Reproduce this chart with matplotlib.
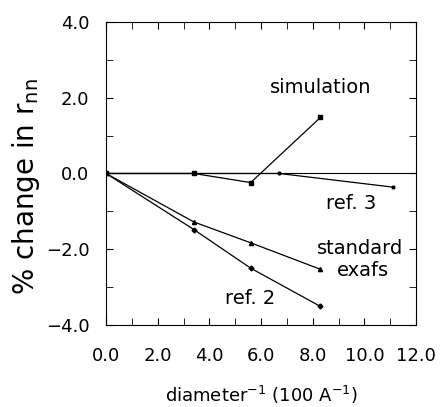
import numpy as np
import matplotlib
matplotlib.use('Agg')
import matplotlib.pyplot as plt
from matplotlib.ticker import MultipleLocator, FuncFormatter

# values (x = 1/diameter in 100/A, y = % change in r_nn)
sim_x = [0.0, 3.4, 5.6, 8.3]
sim_y = [0.0, 0.0, -0.24, 1.48]
ref3_x = [0.0, 6.7, 11.1]
ref3_y = [0.0, 0.0, -0.36]
exafs_x = [0.0, 3.4, 5.6, 8.3]
exafs_y = [0.0, -1.28, -1.83, -2.53]
ref2_x = [0.0, 3.4, 5.6, 8.3]
ref2_y = [0.0, -1.48, -2.50, -3.51]

plt.rcParams['font.family'] = 'DejaVu Sans'

fig = plt.figure(figsize=(4.4, 4.07), dpi=100)
ax = fig.add_axes([0.241, 0.2015, 0.7045, 0.7445])

ax.axhline(0, color='k', lw=0.8)
ax.plot(sim_x, sim_y, 'k-', lw=0.9, marker='s', ms=3)
ax.plot(ref3_x, ref3_y, 'k-', lw=0.9, marker='o', ms=2)
ax.plot(exafs_x, exafs_y, 'k-', lw=0.9, marker='^', ms=3)
ax.plot(ref2_x, ref2_y, 'k-', lw=0.9, marker='D', ms=2.5)

ax.text(8.3, 2.28, 'simulation', ha='center', va='center', fontsize=14)
ax.text(9.5, -0.78, 'ref. 3', ha='center', va='center', fontsize=14)
ax.text(9.85, -1.97, 'standard', ha='center', va='center', fontsize=14)
ax.text(9.95, -2.56, 'exafs', ha='center', va='center', fontsize=14)
ax.text(5.57, -3.29, 'ref. 2', ha='center', va='center', fontsize=14)

def fmt(v, pos):
    return ('%.1f' % v).replace('-', '\u2212')

ax.set_xlim(0, 12)
ax.set_ylim(-4, 4)
ax.xaxis.set_major_locator(MultipleLocator(2))
ax.xaxis.set_minor_locator(MultipleLocator(1))
ax.yaxis.set_major_locator(MultipleLocator(2))
ax.yaxis.set_minor_locator(MultipleLocator(1))
ax.xaxis.set_major_formatter(FuncFormatter(fmt))
ax.yaxis.set_major_formatter(FuncFormatter(fmt))
ax.tick_params(which='both', direction='in', top=True, right=True, labelsize=13)
ax.tick_params(axis='x', pad=16)
ax.tick_params(axis='y', pad=12)
ax.tick_params(which='both', length=5)

fig.text(261 / 440, 1 - 395 / 407, 'diameter$^{-1}$ (100 A$^{-1}$)', fontsize=13,
         ha='center', va='center')
fig.text(26 / 440, 1 - 187 / 407, '% change in r$_{\\mathrm{nn}}$', fontsize=20,
         rotation=90, ha='center', va='center')

fig.savefig('out.png', dpi=100)
